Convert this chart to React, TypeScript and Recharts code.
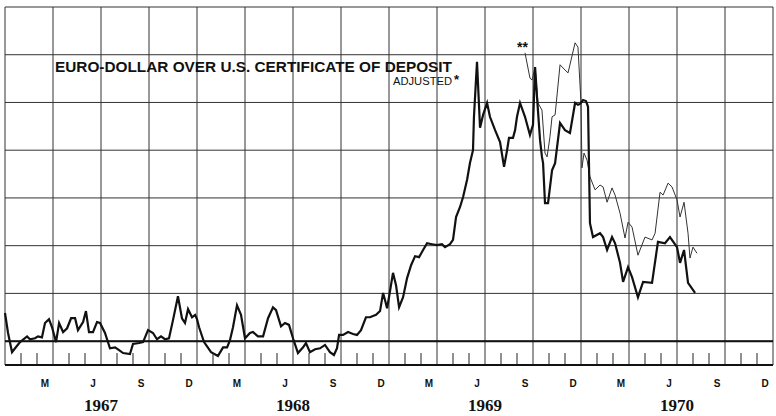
import React from 'react'
import { LineChart, Line, XAxis, YAxis, CartesianGrid, ReferenceLine } from 'recharts'

// months since Jan 1967, values in grid units (bold line = 0)
const thickMonths = [
  0, 0.19, 0.44, 0.63, 0.94, 1.38, 1.56, 1.88, 2.06, 2.31, 2.5, 2.75, 2.94, 3.19, 3.38, 3.63, 3.88, 4.13, 4.38, 4.56,
  4.88, 5.06, 5.25, 5.5, 5.75, 5.94, 6.25, 6.56, 6.88, 7.13, 7.38, 7.81, 8.0, 8.38, 8.63, 8.94, 9.25, 9.5, 9.75, 10.0,
  10.25, 10.5, 10.81, 11.06, 11.25, 11.44, 11.69, 11.88, 12.0, 12.13, 12.44, 12.88, 13.31, 13.63, 13.88, 14.06, 14.25,
  14.5, 14.75, 15.0, 15.31, 15.5, 15.81, 16.13, 16.44, 16.75, 16.94, 17.25, 17.5, 17.75, 18.0, 18.31, 18.63, 18.81,
  19.06, 19.38, 19.69, 20.0, 20.31, 20.56, 20.75, 20.88, 21.13, 21.44, 21.75, 22.0, 22.25, 22.56, 22.81, 23.19, 23.44,
  23.63, 23.75, 23.88, 24.0, 24.25, 24.44, 24.63, 24.88, 25.13, 25.38, 25.63, 25.88, 26.13, 26.38, 26.69, 27.0, 27.31,
  27.5, 27.81, 28.0, 28.19, 28.44, 28.63, 28.88, 29.06, 29.25, 29.31, 29.5, 29.69, 29.88, 30.13, 30.31, 30.63, 30.94,
  31.19, 31.38, 31.5, 31.75, 31.88, 32.0, 32.19, 32.5, 32.81, 33.0, 33.13, 33.25, 33.44, 33.56, 33.63, 33.75, 33.94,
  34.19, 34.38, 34.69, 35.0, 35.31, 35.63, 35.81, 35.94, 36.13, 36.31, 36.44, 36.56, 36.75, 37.19, 37.38, 37.63, 37.94,
  38.13, 38.44, 38.63, 38.94, 39.19, 39.56, 39.88, 40.44, 40.81, 41.25, 41.56, 42.0, 42.19, 42.44, 42.69, 43.13,
]
const thickValues = [
  0.59, 0.17, -0.23, -0.15, -0.02, 0.1, 0.04, 0.06, 0.1, 0.08, 0.38, 0.46, 0.29, -0.02, 0.38, 0.19, 0.27, 0.48, 0.48, 0.23,
  0.4, 0.63, 0.19, 0.19, 0.4, 0.38, 0.17, -0.15, -0.13, -0.19, -0.25, -0.27, -0.06, -0.04, -0.02, 0.23, 0.17, 0.04, 0.1, 0.04,
  0.06, 0.44, 0.94, 0.48, 0.38, 0.67, 0.5, 0.55, 0.46, 0.29, -0.02, -0.23, -0.31, -0.13, -0.13, 0.02, 0.29,
  0.75, 0.55, 0.06, 0.17, 0.19, 0.1, 0.1, 0.48, 0.71, 0.65, 0.31, 0.38, 0.34, 0.06, -0.25, -0.13, -0.04,
  -0.23, -0.17, -0.15, -0.08, -0.23, -0.29, -0.15, 0.13, 0.13, 0.19, 0.15, 0.13, 0.23, 0.5, 0.5, 0.55, 0.63,
  1.01, 0.86, 0.69, 0.92, 1.43, 1.17, 0.71, 0.92, 1.32, 1.59, 1.78, 1.76, 1.91, 2.05, 2.03, 2.01, 2.03,
  1.97, 2.03, 2.12, 2.6, 2.81, 3.02, 3.38, 3.73, 4.0, 4.7, 5.85, 4.47, 4.74, 4.99, 4.7, 4.42, 4.17,
  3.65, 4.0, 4.26, 4.26, 4.42, 4.7, 4.99, 4.7, 4.32, 4.53, 5.74, 5.12, 4.21, 3.86, 3.73, 2.89, 2.89,
  3.58, 3.73, 4.57, 4.42, 4.36, 4.99, 4.95, 4.97, 5.05, 5.03, 4.91, 2.47, 2.18, 2.26, 2.18, 1.91, 2.18,
  2.05, 1.64, 1.24, 1.55, 1.34, 0.92, 1.24, 1.22, 2.08, 2.05, 2.18, 1.97, 1.64, 1.91, 1.22, 1.01,
]

// adjusted series (**)
const thinMonths = [
  32.5, 32.81, 32.94, 33.13, 33.31, 33.56, 33.75, 33.88, 34.06, 34.19, 34.38, 34.69, 35.0, 35.19, 35.63, 35.81, 36.0,
  36.06, 36.19, 36.38, 36.56, 36.88, 37.19, 37.38, 37.63, 37.94, 38.13, 38.44, 38.75, 38.94, 39.19, 39.56, 40.0, 40.44,
  40.63, 40.94, 41.13, 41.44, 41.69, 42.0, 42.19, 42.44, 42.69, 42.81, 43.0, 43.25,
]
const thinValues = [
  6.04, 5.51, 5.47, 5.74, 4.99, 4.84, 3.94, 3.86, 4.28, 4.7, 4.74, 5.79, 5.68, 5.62, 6.25, 6.16, 4.99,
  3.63, 3.94, 3.79, 3.44, 3.17, 3.27, 3.23, 2.91, 3.21, 3.06, 2.68, 2.16, 2.49, 2.39, 1.8, 2.18, 2.12,
  2.26, 3.12, 3.06, 3.31, 3.23, 2.96, 2.6, 2.91, 2.26, 1.74, 1.97, 1.84,
]

const quarterTicks = [0, 3, 6, 9, 12, 15, 18, 21, 24, 27, 30, 33, 36, 39, 42, 45, 48]
const minorTicks = [1, 2, 4, 5, 7, 8, 10, 11, 13, 14, 16, 17, 19, 20, 22, 23, 25, 26, 28, 29, 31, 32, 34, 35, 37, 38, 40, 41, 43, 44, 46, 47]
const monthLabelPos = [2.5, 5.5, 8.5, 11.5, 14.5, 17.5, 20.5, 23.5, 26.5, 29.5, 32.5, 35.5, 38.5, 41.5, 44.5, 47.5]
const monthLabels = ['M', 'J', 'S', 'D', 'M', 'J', 'S', 'D', 'M', 'J', 'S', 'D', 'M', 'J', 'S', 'D']
const yearPos = [6, 18, 30, 42]
const yearLabels = ['1967', '1968', '1969', '1970']
const gridValues = [0, 1, 2, 3, 4, 5, 6, 7]

const thickData = thickMonths.map((m, i) => ({ m, v: thickValues[i] }))
const thinData = thinMonths.map((m, i) => ({ m, v: thinValues[i] }))
const axisTicks = [...minorTicks, ...monthLabelPos, ...yearPos].sort((a, b) => a - b)

function AxisTick({ x, y, payload }: any) {
  const v = payload.value
  const yi = yearPos.indexOf(v)
  if (yi >= 0) {
    return (
      <text x={x} y={y + 46} textAnchor="middle" fontFamily="Liberation Serif" fontWeight="bold" fontSize={17} fill="#111">
        {yearLabels[yi]}
      </text>
    )
  }
  const mi = monthLabelPos.indexOf(v)
  if (mi >= 0) {
    return (
      <text x={x} y={y + 22} textAnchor="middle" fontFamily="Liberation Sans" fontWeight="bold" fontSize={10} fill="#111">
        {monthLabels[mi]}
      </text>
    )
  }
  return <line x1={x} x2={x} y1={y} y2={y - 12} stroke="#222" strokeWidth={1} />
}

export default function App() {
  return (
    <div style={{ position: 'absolute', left: 0, top: 0, width: 776, height: 416, background: '#fff' }}>
      <LineChart width={776} height={416} margin={{ top: 7, right: 3, left: 5, bottom: 0 }}>
        <CartesianGrid xAxisId="q" stroke="#333" strokeWidth={1} />
        <XAxis xAxisId="q" dataKey="m" type="number" domain={[0, 48]} ticks={quarterTicks} hide />
        <XAxis
          xAxisId="lbl"
          dataKey="m"
          type="number"
          domain={[0, 48]}
          ticks={axisTicks}
          interval={0}
          height={51}
          tickSize={0}
          tickMargin={0}
          tickLine={false}
          axisLine={{ stroke: '#111', strokeWidth: 2 }}
          tick={AxisTick}
        />
        <YAxis type="number" domain={[-0.5, 7]} ticks={gridValues} hide />
        <ReferenceLine xAxisId="q" y={0} stroke="#111" strokeWidth={2} />
        <Line xAxisId="q" data={thinData} dataKey="v" type="linear" stroke="#333" strokeWidth={1} dot={false} isAnimationActive={false} />
        <Line xAxisId="lbl" data={thickData} dataKey="v" type="linear" stroke="#111" strokeWidth={2.2} dot={false} isAnimationActive={false} />
      </LineChart>
      <svg width={776} height={416} style={{ position: 'absolute', left: 0, top: 0, pointerEvents: 'none' }}>
        <text x={55} y={72} fontFamily="Liberation Sans" fontWeight="bold" fontSize={14} fill="#111" textLength={397} lengthAdjust="spacingAndGlyphs">
          EURO-DOLLAR OVER U.S. CERTIFICATE OF DEPOSIT
        </text>
        <text x={393} y={85} fontFamily="Liberation Sans" fontSize={10} fill="#111" textLength={59} lengthAdjust="spacingAndGlyphs">
          ADJUSTED
        </text>
        <text x={454} y={84} fontFamily="Liberation Sans" fontWeight="bold" fontSize={13} fill="#111">*</text>
        <text x={517} y={52} fontFamily="Liberation Sans" fontWeight="bold" fontSize={14} fill="#111">**</text>
      </svg>
    </div>
  )
}
